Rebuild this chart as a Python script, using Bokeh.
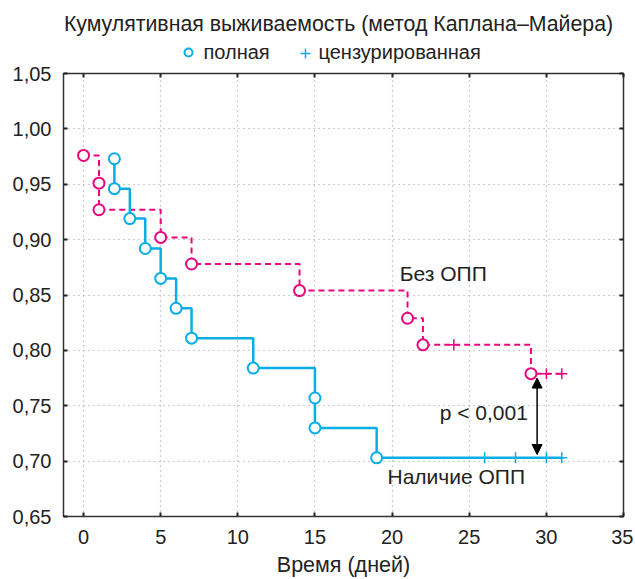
from bokeh.plotting import figure
from bokeh.layouts import column
from bokeh.models import (Label, Arrow, NormalHead, FixedTicker, CustomJSTickFormatter,
                          LinearAxis, Range1d)
from bokeh.embed import file_html
from bokeh.resources import INLINE

# ---- data ----
# Наличие ОПП (blue, solid)
opp_event_t = [2, 2, 3, 4, 5, 6, 7, 11, 15, 15, 19]
opp_event_s = [0.973, 0.946, 0.919, 0.892, 0.865, 0.838, 0.811, 0.784, 0.757, 0.730, 0.703]
opp_cens_t = [26, 28, 30, 31]
opp_cens_s = [0.703, 0.703, 0.703, 0.703]

# Без ОПП (magenta, dashed)
noopp_event_t = [0, 1, 1, 5, 7, 14, 21, 22, 29]
noopp_event_s = [0.976, 0.951, 0.927, 0.902, 0.878, 0.854, 0.829, 0.805, 0.779]
noopp_cens_t = [24, 30, 31]
noopp_cens_s = [0.805, 0.779, 0.779]

x_ticks = [0, 5, 10, 15, 20, 25, 30, 35]
y_ticks = [0.65, 0.70, 0.75, 0.80, 0.85, 0.90, 0.95, 1.00, 1.05]

title_text = "Кумулятивная выживаемость (метод Каплана–Майера)"
legend_full = "полная"
legend_cens = "цензурированная"
x_label = "Время (дней)"
label_noopp = "Без ОПП"
label_opp = "Наличие ОПП"
p_text = "p < 0,001"

BLUE = "#0AADE6"
PINK = "#E5087E"
TXT = "#222222"
FONT = "Liberation Sans"
W = 633
HEAD_H = 64
FRAME_L = 63
FRAME_R = 623


def merge_path(et, es, ct, cs):
    pts = [(t, s) for t, s in zip(et, es)] + [(t, s) for t, s in zip(ct, cs)]
    pts.sort(key=lambda a: (a[0], -a[1]))
    return [a[0] for a in pts], [a[1] for a in pts]


# ---------- header (title + legend); its frame aligns with the plot frame ----------
h = figure(width=W, height=HEAD_H, output_backend="svg", toolbar_location=None,
           x_range=Range1d(FRAME_L, FRAME_R), y_range=Range1d(HEAD_H, 0),
           min_border=0, outline_line_color=None)
h.axis.visible = False
h.grid.visible = False
h.add_layout(Label(x=338, y=23, text=title_text, text_align="center", text_baseline="middle",
                   text_font=FONT, text_font_size="21.3px", text_color=TXT))
h.add_layout(Label(x=203, y=51, text=legend_full, text_align="left", text_baseline="middle",
                   text_font=FONT, text_font_size="20px", text_color=TXT))
h.add_layout(Label(x=318, y=51, text=legend_cens, text_align="left", text_baseline="middle",
                   text_font=FONT, text_font_size="20px", text_color=TXT))
h.scatter(x=[188], y=[52], marker="circle", size=8, line_color=BLUE, line_width=2,
          fill_color="white")
h.scatter(x=[305], y=[53], marker="cross", size=10, line_color=BLUE, line_width=1.5)

# ---------- main plot ----------
p = figure(width=W, height=579 - HEAD_H, output_backend="svg", toolbar_location=None,
           x_range=Range1d(-1.3, 35), y_range=Range1d(0.65, 1.05),
           min_border_left=FRAME_L, min_border_right=W - FRAME_R,
           min_border_top=9, min_border_bottom=62)

p.outline_line_color = "#333333"
p.outline_line_width = 1.5

fmt = CustomJSTickFormatter(code="return tick.toFixed(2).replace('.', ',');")
blank = CustomJSTickFormatter(code="return '';")

for ax in p.xaxis:
    ax.ticker = FixedTicker(ticks=x_ticks)
    ax.axis_label = x_label
for ax in p.yaxis:
    ax.ticker = FixedTicker(ticks=y_ticks)
    ax.formatter = fmt

for ax in list(p.xaxis) + list(p.yaxis):
    ax.axis_line_color = None
    ax.major_tick_in = 4
    ax.major_tick_out = 0
    ax.major_tick_line_color = "#222222"
    ax.major_tick_line_width = 2
    ax.minor_tick_line_color = None
    ax.major_label_text_font = FONT
    ax.major_label_text_font_size = "20px"
    ax.major_label_text_color = TXT
    ax.axis_label_text_font = FONT
    ax.axis_label_text_font_size = "21.5px"
    ax.axis_label_text_font_style = "normal"
    ax.axis_label_text_color = TXT

p.xaxis.major_label_standoff = 13
p.xaxis.axis_label_standoff = 6
p.yaxis.major_label_standoff = 12

p.xgrid.ticker = FixedTicker(ticks=x_ticks)
p.ygrid.ticker = FixedTicker(ticks=y_ticks)
for g in (p.xgrid, p.ygrid):
    g.grid_line_color = "#9a9a9a"
    g.grid_line_dash = "1 4"
    g.grid_line_width = 1.2

# mirrored inward ticks
top_ax = LinearAxis(ticker=FixedTicker(ticks=x_ticks), formatter=blank,
                    axis_line_color=None, major_tick_in=4, major_tick_out=0,
                    major_tick_line_color="#222222", major_tick_line_width=2,
                    minor_tick_line_color=None, major_label_standoff=0)
right_ax = LinearAxis(ticker=FixedTicker(ticks=y_ticks), formatter=blank,
                      axis_line_color=None, major_tick_in=4, major_tick_out=0,
                      major_tick_line_color="#222222", major_tick_line_width=2,
                      minor_tick_line_color=None, major_label_standoff=0)
p.add_layout(top_ax, "above")
p.add_layout(right_ax, "right")

# ---- curves ----
bx, by = merge_path(opp_event_t, opp_event_s, opp_cens_t, opp_cens_s)
mx, my = merge_path(noopp_event_t, noopp_event_s, noopp_cens_t, noopp_cens_s)

p.step(x=mx, y=my, mode="after", line_color=PINK, line_width=2, line_dash="6 4")
p.step(x=bx, y=by, mode="after", line_color=BLUE, line_width=2.5)

p.scatter(x=noopp_cens_t, y=noopp_cens_s, marker="cross", size=11,
          line_color=PINK, line_width=1.5)
p.scatter(x=noopp_event_t, y=noopp_event_s, marker="circle", size=11,
          line_color=PINK, line_width=2, fill_color="white")
p.scatter(x=opp_cens_t, y=opp_cens_s, marker="cross", size=11,
          line_color=BLUE, line_width=1.5)
p.scatter(x=opp_event_t, y=opp_event_s, marker="circle", size=11,
          line_color=BLUE, line_width=2, fill_color="white")

# ---- annotations ----
p.add_layout(Arrow(x_start=29.4, y_start=0.706, x_end=29.4, y_end=0.775,
                   line_color="black", line_width=1.5,
                   start=NormalHead(size=10, fill_color="black", line_color="black"),
                   end=NormalHead(size=10, fill_color="black", line_color="black")))

for (tx, ty, t, al) in [(28.8, 0.744, p_text, "right"),
                        (20.5, 0.869, label_noopp, "left"),
                        (19.7, 0.686, label_opp, "left")]:
    p.add_layout(Label(x=tx, y=ty, text=t, text_align=al, text_baseline="middle",
                       text_font=FONT, text_font_size="21px", text_color=TXT))

layout = column(h, p, spacing=0)
open("out.html", "w").write(file_html(layout, INLINE))
